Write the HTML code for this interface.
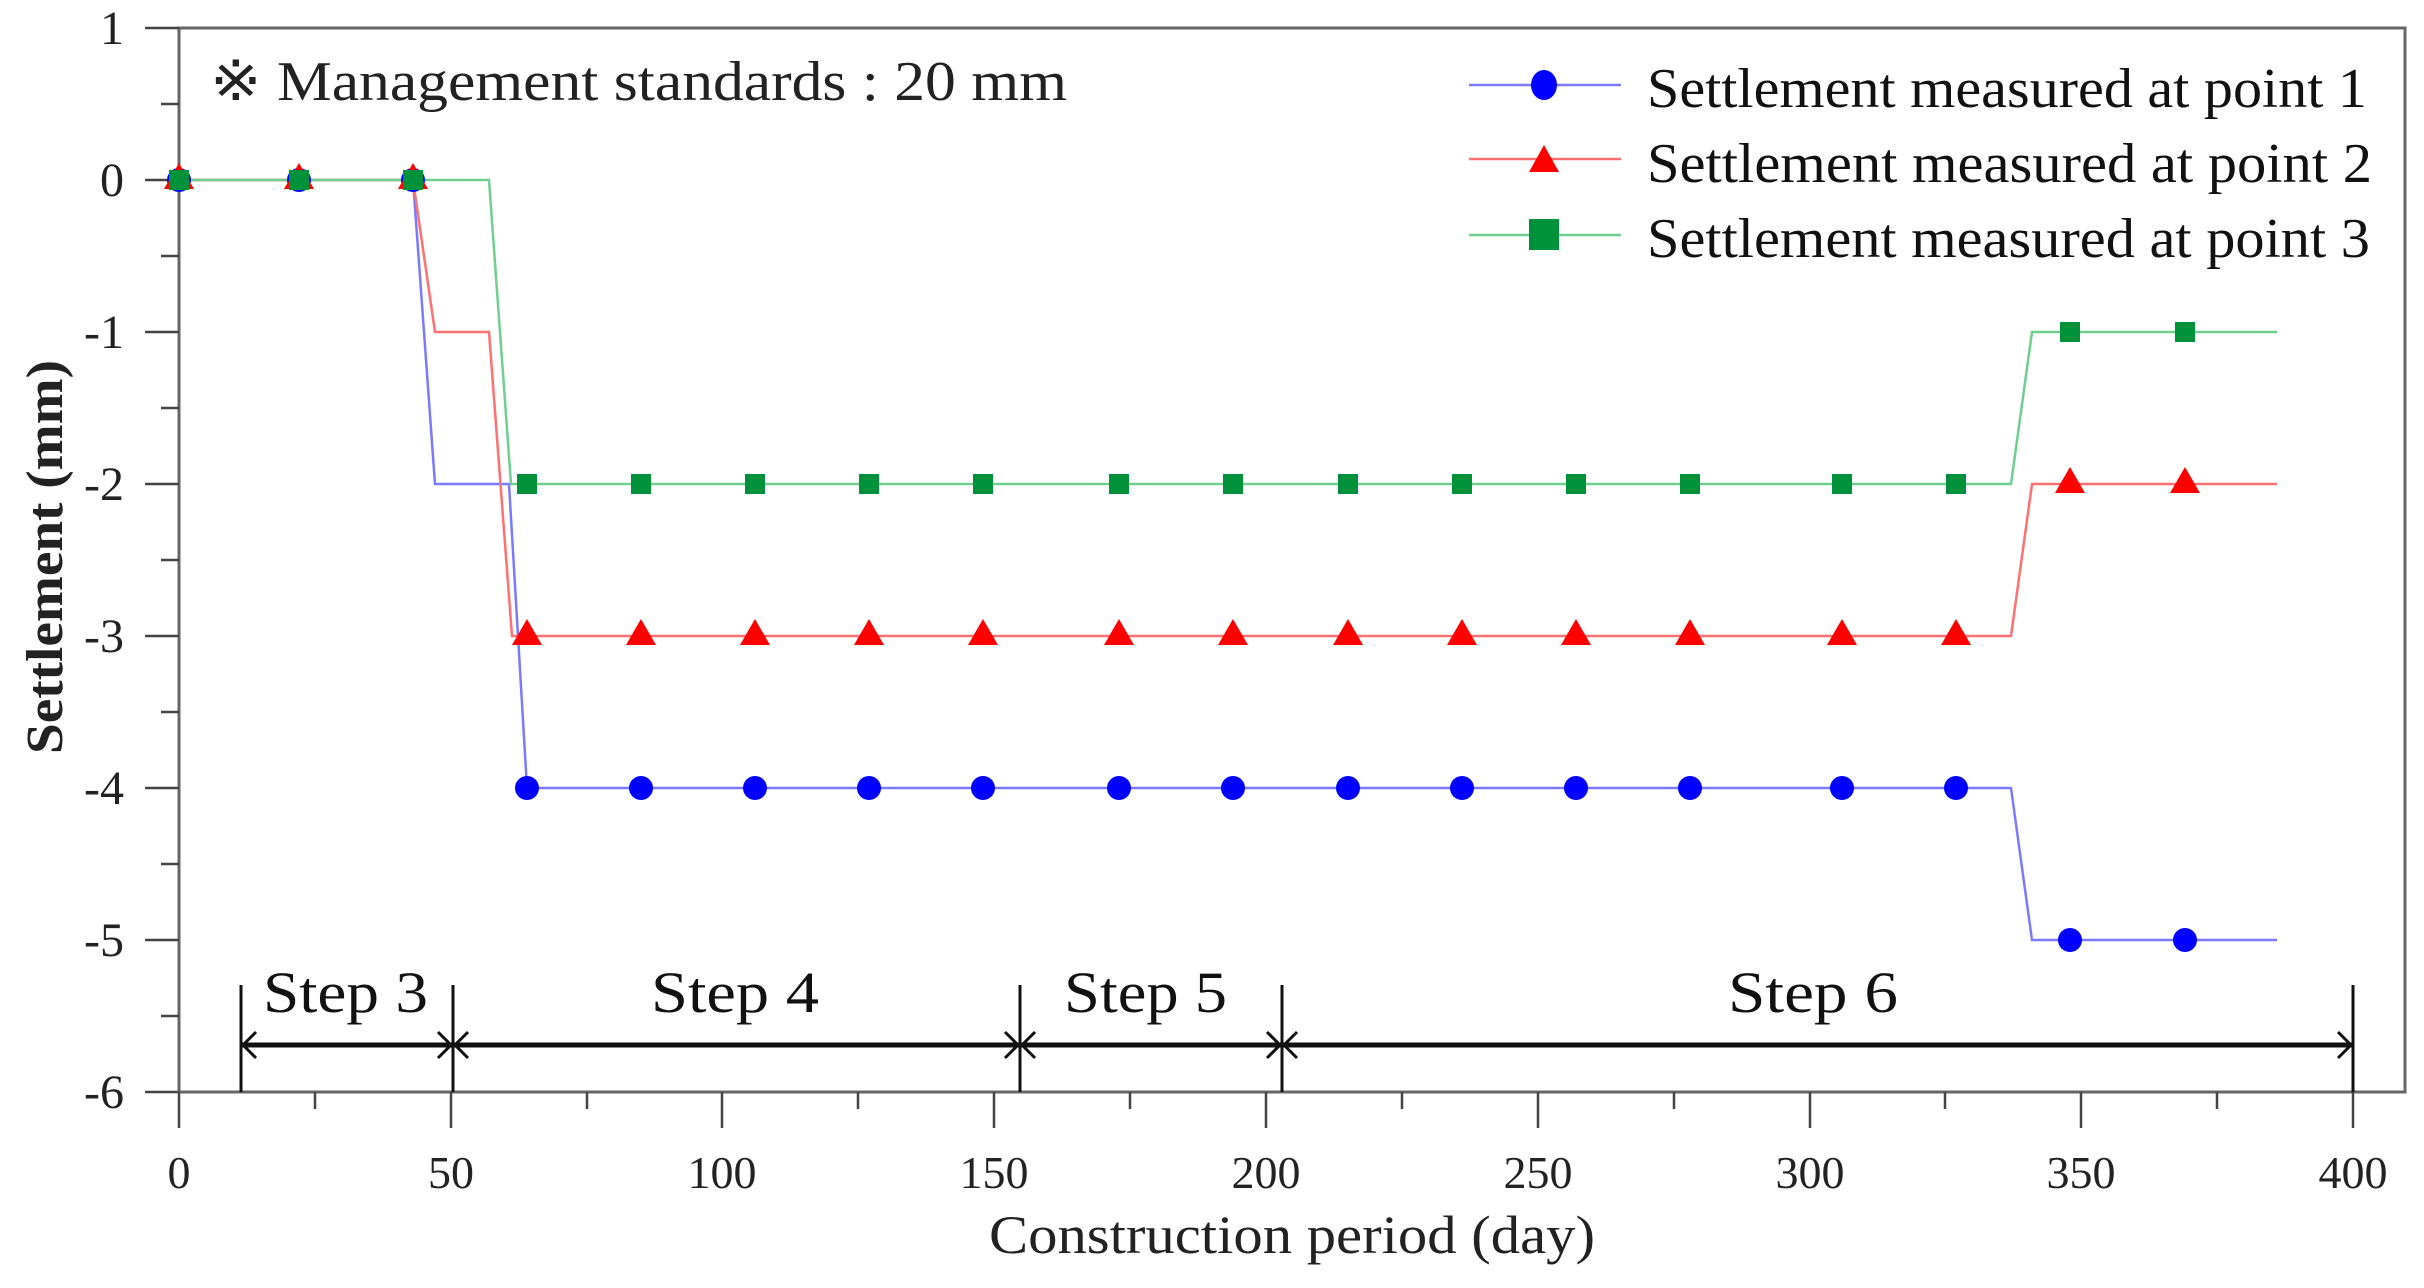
<!DOCTYPE html>
<html><head><meta charset="utf-8"><style>html,body{margin:0;padding:0;background:#fff}svg{display:block}</style></head>
<body>
<svg width="2424" height="1288" viewBox="0 0 2424 1288" xmlns="http://www.w3.org/2000/svg" font-family="Liberation Serif, serif">
<defs>
<circle id="c" r="12" fill="#0000ff"/>
<path id="t" d="M0,-17 l15,26 h-30z" fill="#ff0000"/>
<rect id="s" x="-10" y="-10" width="20" height="20" fill="#00923a"/>
</defs>
<rect width="2424" height="1288" fill="#fff"/>
<rect x="179" y="28" width="2226" height="1064" fill="none" stroke="#666" stroke-width="3"/>
<g stroke="#444" stroke-width="2.5">
<line x1="145" y1="28" x2="179" y2="28"/><line x1="145" y1="180" x2="179" y2="180"/><line x1="145" y1="332" x2="179" y2="332"/><line x1="145" y1="484" x2="179" y2="484"/><line x1="145" y1="636" x2="179" y2="636"/><line x1="145" y1="788" x2="179" y2="788"/><line x1="145" y1="940" x2="179" y2="940"/><line x1="145" y1="1092" x2="179" y2="1092"/>
<line x1="161" y1="104" x2="179" y2="104"/><line x1="161" y1="256" x2="179" y2="256"/><line x1="161" y1="408" x2="179" y2="408"/><line x1="161" y1="560" x2="179" y2="560"/><line x1="161" y1="712" x2="179" y2="712"/><line x1="161" y1="864" x2="179" y2="864"/><line x1="161" y1="1016" x2="179" y2="1016"/>
<line x1="179" y1="1092" x2="179" y2="1128"/><line x1="451" y1="1092" x2="451" y2="1128"/><line x1="722" y1="1092" x2="722" y2="1128"/><line x1="994" y1="1092" x2="994" y2="1128"/><line x1="1266" y1="1092" x2="1266" y2="1128"/><line x1="1538" y1="1092" x2="1538" y2="1128"/><line x1="1810" y1="1092" x2="1810" y2="1128"/><line x1="2081" y1="1092" x2="2081" y2="1128"/><line x1="2353" y1="1092" x2="2353" y2="1128"/>
<line x1="315" y1="1092" x2="315" y2="1109"/><line x1="587" y1="1092" x2="587" y2="1109"/><line x1="858" y1="1092" x2="858" y2="1109"/><line x1="1130" y1="1092" x2="1130" y2="1109"/><line x1="1402" y1="1092" x2="1402" y2="1109"/><line x1="1674" y1="1092" x2="1674" y2="1109"/><line x1="1945" y1="1092" x2="1945" y2="1109"/><line x1="2217" y1="1092" x2="2217" y2="1109"/>
</g>
<g font-size="48" fill="#222" text-anchor="end">
<text x="124" y="44">1</text><text x="124" y="196">0</text><text x="124" y="348">-1</text><text x="124" y="500">-2</text><text x="124" y="652">-3</text><text x="124" y="804">-4</text><text x="124" y="956">-5</text><text x="124" y="1108">-6</text>
</g>
<g font-size="46" fill="#222" text-anchor="middle">
<text x="179" y="1188">0</text><text x="451" y="1188">50</text><text x="722" y="1188">100</text><text x="994" y="1188">150</text><text x="1266" y="1188">200</text><text x="1538" y="1188">250</text><text x="1810" y="1188">300</text><text x="2081" y="1188">350</text><text x="2353" y="1188">400</text>
</g>
<text x="989" y="1253" font-size="54" fill="#222" textLength="606" lengthAdjust="spacingAndGlyphs">Construction period (day)</text>
<text transform="translate(62,557) rotate(-90)" text-anchor="middle" font-size="52" font-weight="bold" fill="#222" textLength="394" lengthAdjust="spacingAndGlyphs">Settlement (mm)</text>
<text x="210" y="100" font-size="56" fill="#222" textLength="857" lengthAdjust="spacingAndGlyphs">※ Management standards : 20 mm</text>
<g stroke="#111" stroke-width="3" fill="none">
<line x1="241" y1="985" x2="241" y2="1092"/><line x1="453" y1="985" x2="453" y2="1092"/><line x1="1020" y1="985" x2="1020" y2="1092"/><line x1="1282" y1="985" x2="1282" y2="1092"/><line x1="2353" y1="985" x2="2353" y2="1092"/>
<line x1="241" y1="1045" x2="2353" y2="1045" stroke-width="5"/>
<polyline points="256,1032 243,1045 256,1058"/><polyline points="438,1032 451,1045 438,1058"/>
<polyline points="468,1032 455,1045 468,1058"/><polyline points="1005,1032 1018,1045 1005,1058"/>
<polyline points="1035,1032 1022,1045 1035,1058"/><polyline points="1267,1032 1280,1045 1267,1058"/>
<polyline points="1297,1032 1284,1045 1297,1058"/><polyline points="2338,1032 2351,1045 2338,1058"/>
</g>
<g font-size="58" fill="#111">
<text x="263" y="1012" textLength="165" lengthAdjust="spacingAndGlyphs">Step 3</text>
<text x="651" y="1012" textLength="168" lengthAdjust="spacingAndGlyphs">Step 4</text>
<text x="1064" y="1012" textLength="163" lengthAdjust="spacingAndGlyphs">Step 5</text>
<text x="1728" y="1012" textLength="170" lengthAdjust="spacingAndGlyphs">Step 6</text>
</g>
<polyline fill="none" stroke="#7a7aff" stroke-width="2.5" points="179,180 413,180 435,484 509,484 527,788 2011,788 2032,940 2277,940"/>
<polyline fill="none" stroke="#ff7070" stroke-width="2.5" points="179,180 413,180 435,332 489,332 512,636 2011,636 2032,484 2277,484"/>
<polyline fill="none" stroke="#6fcf8f" stroke-width="2.5" points="179,180 489,180 511,484 2011,484 2032,332 2277,332"/>
<g>
<use href="#c" x="179" y="180"/><use href="#c" x="299" y="180"/><use href="#c" x="413" y="180"/>
<use href="#t" x="179" y="180"/><use href="#t" x="299" y="180"/><use href="#t" x="413" y="180"/>
<use href="#s" x="179" y="180"/><use href="#s" x="299" y="180"/><use href="#s" x="413" y="180"/>
</g>
<g>
<use href="#c" x="527" y="788"/><use href="#c" x="641" y="788"/><use href="#c" x="755" y="788"/><use href="#c" x="869" y="788"/><use href="#c" x="983" y="788"/><use href="#c" x="1119" y="788"/><use href="#c" x="1233" y="788"/><use href="#c" x="1348" y="788"/><use href="#c" x="1462" y="788"/><use href="#c" x="1576" y="788"/><use href="#c" x="1690" y="788"/><use href="#c" x="1842" y="788"/><use href="#c" x="1956" y="788"/><use href="#c" x="2070" y="940"/><use href="#c" x="2185" y="940"/>
<use href="#t" x="527" y="636"/><use href="#t" x="641" y="636"/><use href="#t" x="755" y="636"/><use href="#t" x="869" y="636"/><use href="#t" x="983" y="636"/><use href="#t" x="1119" y="636"/><use href="#t" x="1233" y="636"/><use href="#t" x="1348" y="636"/><use href="#t" x="1462" y="636"/><use href="#t" x="1576" y="636"/><use href="#t" x="1690" y="636"/><use href="#t" x="1842" y="636"/><use href="#t" x="1956" y="636"/><use href="#t" x="2070" y="484"/><use href="#t" x="2185" y="484"/>
<use href="#s" x="527" y="484"/><use href="#s" x="641" y="484"/><use href="#s" x="755" y="484"/><use href="#s" x="869" y="484"/><use href="#s" x="983" y="484"/><use href="#s" x="1119" y="484"/><use href="#s" x="1233" y="484"/><use href="#s" x="1348" y="484"/><use href="#s" x="1462" y="484"/><use href="#s" x="1576" y="484"/><use href="#s" x="1690" y="484"/><use href="#s" x="1842" y="484"/><use href="#s" x="1956" y="484"/><use href="#s" x="2070" y="332"/><use href="#s" x="2185" y="332"/>
</g>
<line x1="1469" y1="85" x2="1621" y2="85" stroke="#7a7aff" stroke-width="2.5"/>
<line x1="1469" y1="159" x2="1621" y2="159" stroke="#ff7070" stroke-width="2.5"/>
<line x1="1469" y1="235" x2="1621" y2="235" stroke="#6fcf8f" stroke-width="2.5"/>
<ellipse cx="1544" cy="85" rx="13" ry="15" fill="#0000ff"/>
<path d="M1544,145 l15,27 h-30z" fill="#ff0000"/>
<rect x="1529" y="219" width="30" height="31" fill="#00923a"/>
<g font-size="56" fill="#111">
<text x="1647" y="107" textLength="720" lengthAdjust="spacingAndGlyphs">Settlement measured at point 1</text>
<text x="1647" y="182" textLength="725" lengthAdjust="spacingAndGlyphs">Settlement measured at point 2</text>
<text x="1647" y="257" textLength="723" lengthAdjust="spacingAndGlyphs">Settlement measured at point 3</text>
</g>
</svg>
</body></html>
